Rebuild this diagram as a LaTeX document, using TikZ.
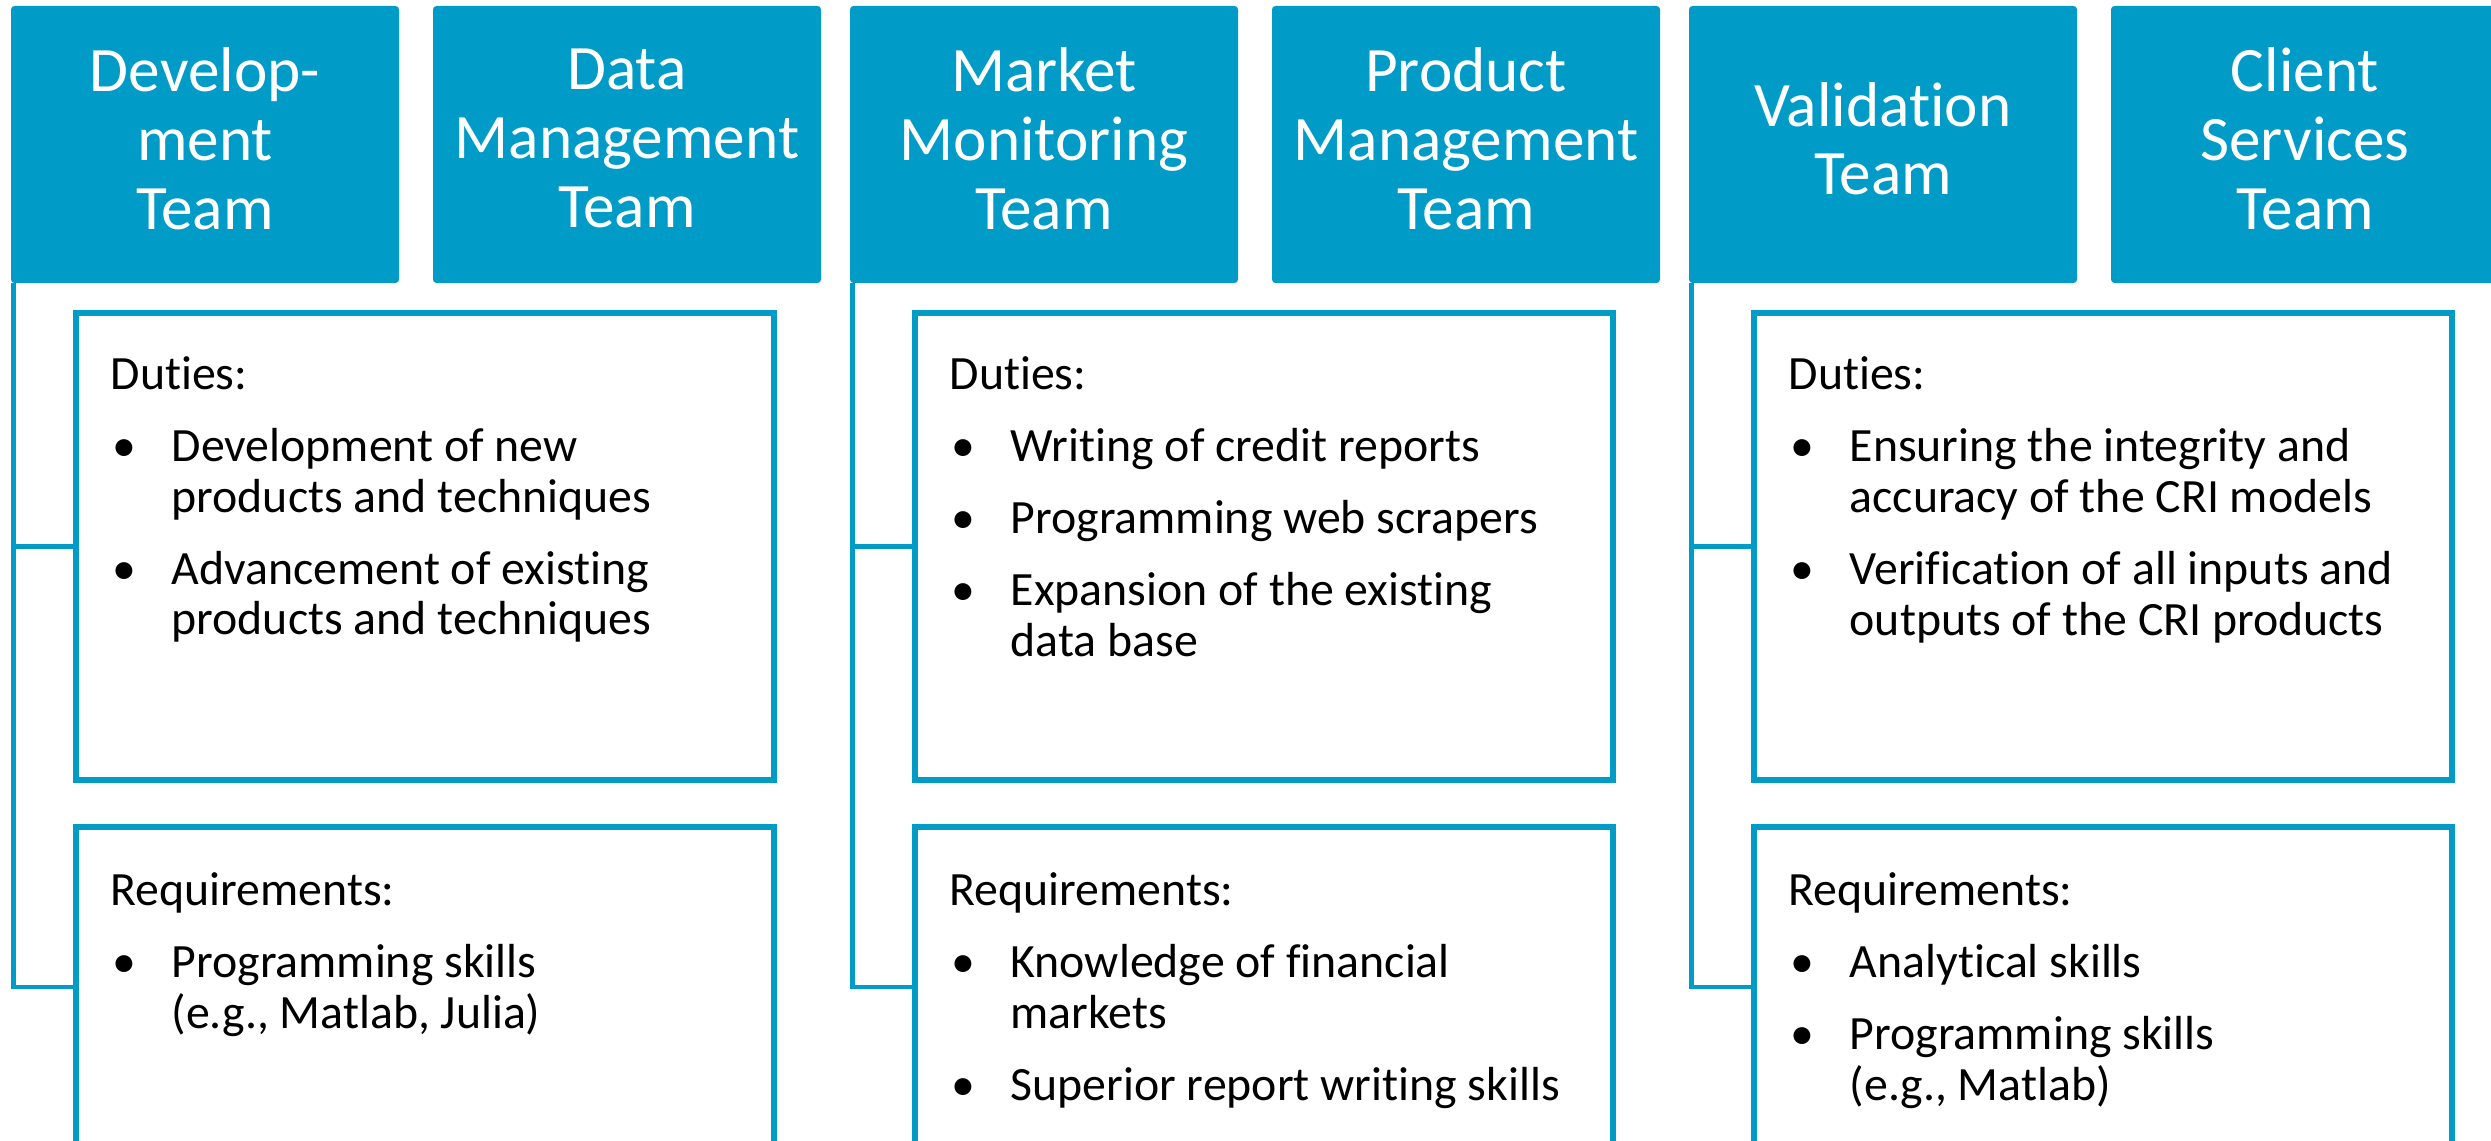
\documentclass[tikz,border=0pt]{standalone}
\usepackage{fontspec}
\setmainfont{Carlito}[Ligatures=NoCommon]
\usetikzlibrary{calc, positioning}
\definecolor{teamblue}{RGB}{0,155,199}
\tikzstyle{Team}=[fill=teamblue, rounded corners=1pt, outer sep=0pt, inner sep=0pt, minimum width=3.88cm, minimum height=2.77cm, align=center, text=white, text depth=0.12cm, font=\fontsize{18}{19.6}\selectfont]
\tikzstyle{Box}=[draw=teamblue, line width=1.7pt, minimum width=6.98cm, inner sep=0pt]
\tikzstyle{Txt}=[anchor=base west, inner sep=0pt, font=\fontsize{13.6}{15}\selectfont]
\tikzstyle{Link}=[draw=teamblue, line width=1.4pt]

\begin{document}
\begin{tikzpicture}
\useasboundingbox (0,0) rectangle (24.91,-11.41);
% development and data management
\node[Team] (h1) at (2.05,-1.445) {Develop-\\ment\\Team};
\node[Team, right=0.34cm of h1] (h2) {Data\\Management\\Team};
\node[Box, minimum height=4.67cm] (d1) at (4.25,-5.465) {};
\node[Box, minimum height=3.20cm] (r1) at (4.25,-9.87) {};
\coordinate (c1) at ($(h1.south west)+(0.025,0)$);
\draw[Link] (c1) |- (d1.west);
\draw[Link] (c1) |- (r1.west);
\node[Txt] (d1t) at (1.10,-3.90) {Duties:};
\node[Txt] (d1a) at (1.71,-4.62) {Development of new};
\node[Txt] (d1b) at (1.71,-5.13) {products and techniques};
\node[Txt] (d1c) at (1.71,-5.85) {Advancement of existing};
\node[Txt] (d1d) at (1.71,-6.35) {products and techniques};
\node[Txt] (r1t) at (1.10,-9.05) {Requirements:};
\node[Txt] (r1a) at (1.71,-9.77) {Programming skills};
\node[Txt] (r1b) at (1.71,-10.28) {(e.g., Matlab, Julia)};
\foreach \y [count=\i] in {-4.62,-5.85,-9.77}
  \node[Txt] (b1\i) at (1.12,\y) {\textbullet};

% market monitoring and product management
\begin{scope}[xshift=8.39cm]
\node[Team] (h3) at (2.05,-1.445) {Market\\Monitoring\\Team};
\node[Team, right=0.34cm of h3] (h4) {Product\\Management\\Team};
\node[Box, minimum height=4.67cm] (d2) at (4.25,-5.465) {};
\node[Box, minimum height=3.20cm] (r2) at (4.25,-9.87) {};
\coordinate (c2) at ($(h3.south west)+(0.025,0)$);
\draw[Link] (c2) |- (d2.west);
\draw[Link] (c2) |- (r2.west);
\node[Txt] (d2t) at (1.10,-3.90) {Duties:};
\node[Txt] (d2a) at (1.71,-4.62) {Writing of credit reports};
\node[Txt] (d2b) at (1.71,-5.34) {Programming web scrapers};
\node[Txt] (d2c) at (1.71,-6.06) {Expansion of the existing};
\node[Txt] (d2d) at (1.71,-6.57) {data base};
\node[Txt] (r2t) at (1.10,-9.05) {Requirements:};
\node[Txt] (r2a) at (1.71,-9.77) {Knowledge of financial};
\node[Txt] (r2b) at (1.71,-10.28) {markets};
\node[Txt] (r2c) at (1.71,-11.00) {Superior report writing skills};
\foreach \y [count=\i] in {-4.62,-5.34,-6.06,-9.77,-11.00}
  \node[Txt] (b2\i) at (1.12,\y) {\textbullet};
\end{scope}

% validation and client services
\begin{scope}[xshift=16.78cm]
\node[Team] (h5) at (2.05,-1.445) {Validation\\Team};
\node[Team, right=0.34cm of h5] (h6) {Client\\Services\\Team};
\node[Box, minimum height=4.67cm] (d3) at (4.25,-5.465) {};
\node[Box, minimum height=3.20cm] (r3) at (4.25,-9.87) {};
\coordinate (c3) at ($(h5.south west)+(0.025,0)$);
\draw[Link] (c3) |- (d3.west);
\draw[Link] (c3) |- (r3.west);
\node[Txt] (d3t) at (1.10,-3.90) {Duties:};
\node[Txt] (d3a) at (1.71,-4.62) {Ensuring the integrity and};
\node[Txt] (d3b) at (1.71,-5.13) {accuracy of the CRI models};
\node[Txt] (d3c) at (1.71,-5.85) {Verification of all inputs and};
\node[Txt] (d3d) at (1.71,-6.36) {outputs of the CRI products};
\node[Txt] (r3t) at (1.10,-9.05) {Requirements:};
\node[Txt] (r3a) at (1.71,-9.77) {Analytical skills};
\node[Txt] (r3b) at (1.71,-10.49) {Programming skills};
\node[Txt] (r3c) at (1.71,-11.00) {(e.g., Matlab)};
\foreach \y [count=\i] in {-4.62,-5.85,-9.77,-10.49}
  \node[Txt] (b3\i) at (1.12,\y) {\textbullet};
\end{scope}
\end{tikzpicture}
\end{document}
